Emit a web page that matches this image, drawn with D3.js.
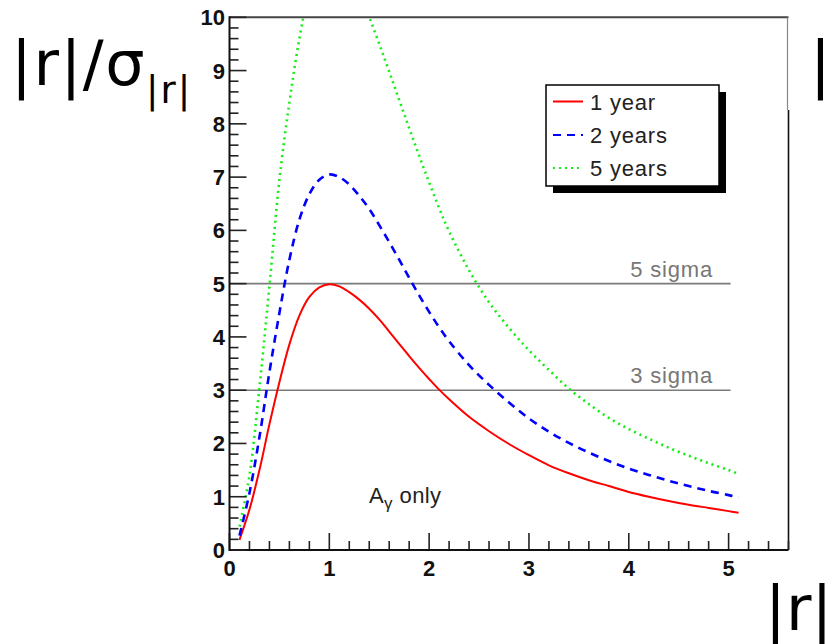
<!DOCTYPE html>
<html>
<head>
<meta charset="utf-8">
<script src="https://cdn.jsdelivr.net/npm/d3@7"></script>
<style>
  html, body { margin: 0; padding: 0; background: #fff; overflow: hidden; }
  svg { display: block; }
</style>
</head>
<body>
<svg id="chart" width="826" height="644"></svg>
<script>
// ---- data ----
const rValues = [0.1, 0.2, 0.3, 0.4, 0.5, 0.6, 0.7, 0.8, 0.9, 1.0, 1.1, 1.2, 1.3, 1.4, 1.5, 1.6, 1.7, 1.8, 1.9, 2.0, 2.1, 2.2, 2.4, 2.6, 2.8, 3.0, 3.2, 3.4, 3.6, 3.8, 4.0, 4.2, 4.4, 4.6, 4.8, 5.0, 5.1];
const oneYear   = [0.19, 0.76, 1.50, 2.36, 3.15, 3.86, 4.40, 4.75, 4.93, 4.99, 4.95, 4.84, 4.70, 4.53, 4.33, 4.10, 3.87, 3.64, 3.42, 3.21, 3.01, 2.83, 2.50, 2.23, 1.99, 1.78, 1.59, 1.44, 1.31, 1.20, 1.09, 1.00, 0.92, 0.85, 0.79, 0.73, 0.70];
const twoYears  = [0.27, 1.07, 2.12, 3.34, 4.45, 5.45, 6.20, 6.68, 6.95, 7.05, 7.00, 6.86, 6.65, 6.40, 6.10, 5.78, 5.45, 5.11, 4.78, 4.47, 4.18, 3.92, 3.47, 3.10, 2.77, 2.47, 2.22, 2.01, 1.83, 1.67, 1.53, 1.41, 1.30, 1.20, 1.11, 1.03, 0.99];
const fiveYears = [0.44, 1.40, 3.05, 4.95, 6.95, 8.40, 9.60, 10.50, 11.00, 11.15, 11.05, 10.80, 10.45, 10.00, 9.50, 8.98, 8.45, 7.92, 7.40, 6.90, 6.42, 5.98, 5.25, 4.65, 4.17, 3.75, 3.38, 3.03, 2.74, 2.48, 2.27, 2.09, 1.92, 1.77, 1.63, 1.50, 1.43];
const seriesNames = ["1 year", "2 years", "5 years"];
const seriesColors = ["#ff0000", "#0000ff", "#11ee11"];
const seriesDash = [null, "8,6", "2,4"];
const sigmaLevels = [5, 3];
const sigmaLabels = ["5 sigma", "3 sigma"];
const xTicks = [0, 1, 2, 3, 4, 5];
const yTicks = [0, 1, 2, 3, 4, 5, 6, 7, 8, 9, 10];

// ---- layout ----
const svg = d3.select("#chart");
const L = 229.5, R = 788.5, T = 17.3, B = 550;
const x = d3.scaleLinear().domain([0, 5.6]).range([L, R]);
const y = d3.scaleLinear().domain([0, 10]).range([B, T]);
const tickFont = "Liberation Sans, Arial, sans-serif";

svg.append("defs").append("clipPath").attr("id", "plotclip")
  .append("rect").attr("x", L).attr("y", T).attr("width", R - L).attr("height", B - T);

// sigma lines
sigmaLevels.forEach((s, i) => {
  svg.append("line").attr("x1", x(0)).attr("x2", x(5.02))
    .attr("y1", y(s)).attr("y2", y(s))
    .attr("stroke", "#7a7a7a").attr("stroke-width", 1.6);
  svg.append("text").attr("x", 713).attr("y", y(s) - 7)
    .attr("text-anchor", "end")
    .attr("font-family", tickFont)
    .attr("font-size", 22).attr("letter-spacing", 0.8)
    .attr("fill", "#777").text(sigmaLabels[i]);
});

// curves
const allSeries = [oneYear, twoYears, fiveYears];
const line = d3.line().x(d => x(d[0])).y(d => y(d[1])).curve(d3.curveCatmullRom.alpha(0.5));
const gCurves = svg.append("g").attr("clip-path", "url(#plotclip)");
allSeries.forEach((vals, i) => {
  const pts = rValues.map((r, j) => [r, vals[j]]);
  gCurves.append("path").datum(pts).attr("d", line)
    .attr("fill", "none").attr("stroke", seriesColors[i])
    .attr("stroke-width", i === 0 ? 2 : 2.6)
    .attr("stroke-dasharray", seriesDash[i]);
});

// frame
svg.append("line").attr("x1", L).attr("x2", R).attr("y1", T).attr("y2", T)
  .attr("stroke", "#444").attr("stroke-width", 2);
svg.append("line").attr("x1", R - 1).attr("x2", R - 1).attr("y1", T).attr("y2", 110)
  .attr("stroke", "#888").attr("stroke-width", 1.2);
svg.append("line").attr("x1", R).attr("x2", R).attr("y1", 110).attr("y2", B)
  .attr("stroke", "#111").attr("stroke-width", 1.6);

// x axis: ticks inside (ROOT style)
const gx = svg.append("g");
const xMinor = d3.range(0, 28.5).map(k => +(k * 0.2).toFixed(1));
xMinor.forEach(v => {
  const major = Math.abs(v - Math.round(v)) < 1e-6;
  gx.append("line").attr("x1", x(v)).attr("x2", x(v))
    .attr("y1", B).attr("y2", B - (major ? 17 : 9))
    .attr("stroke", "#222").attr("stroke-width", 1.6);
});
xTicks.forEach(v => {
  gx.append("text").attr("x", x(v)).attr("y", B + 26)
    .attr("text-anchor", "middle").attr("font-family", tickFont)
    .attr("font-weight", "bold").attr("font-size", 22).attr("fill", "#111").text(v);
});
svg.append("line").attr("x1", L).attr("x2", R).attr("y1", B).attr("y2", B)
  .attr("stroke", "#111").attr("stroke-width", 2);

// y axis
const gy = svg.append("g");
const yMinor = d3.range(0, 51).map(k => +(k * 0.2).toFixed(1));
yMinor.forEach(v => {
  const major = Math.abs(v - Math.round(v)) < 1e-6;
  gy.append("line").attr("x1", L).attr("x2", L + (major ? 17 : 9))
    .attr("y1", y(v)).attr("y2", y(v))
    .attr("stroke", "#222").attr("stroke-width", 1.6);
});
yTicks.forEach(v => {
  gy.append("text").attr("x", 225).attr("y", y(v) + 8)
    .attr("text-anchor", "end").attr("font-family", tickFont)
    .attr("font-weight", "bold").attr("font-size", 22).attr("fill", "#111").text(v);
});
svg.append("line").attr("x1", L).attr("x2", L).attr("y1", T - 1).attr("y2", B + 1)
  .attr("stroke", "#111").attr("stroke-width", 2);

// legend
const lg = svg.append("g");
lg.append("rect").attr("x", 553).attr("y", 92).attr("width", 173).attr("height", 101).attr("fill", "#000");
lg.append("rect").attr("x", 546).attr("y", 85).attr("width", 173).attr("height", 101)
  .attr("fill", "#fff").attr("stroke", "#000").attr("stroke-width", 1.5);
const rowY = [101.5, 135, 168];
seriesNames.forEach((n, i) => {
  lg.append("line").attr("x1", 553).attr("x2", 583).attr("y1", rowY[i]).attr("y2", rowY[i])
    .attr("stroke", seriesColors[i]).attr("stroke-width", 2)
    .attr("stroke-dasharray", seriesDash[i]);
  lg.append("text").attr("x", 590).attr("y", rowY[i] + 8)
    .attr("font-family", tickFont).attr("font-size", 22).attr("letter-spacing", 0.8)
    .attr("fill", "#222").text(n);
});

// annotation
const ann = svg.append("text").attr("x", 369).attr("y", 503)
  .attr("font-family", tickFont).attr("font-size", 22).attr("letter-spacing", 0.4).attr("fill", "#222");
ann.append("tspan").text("A");
ann.append("tspan").attr("dy", 6).attr("font-size", 17).text("γ");
ann.append("tspan").attr("dy", -6).text(" only");

// big slide labels
const bigFont = "DejaVu Sans, sans-serif";
const yl = svg.append("text").attr("x", 11).attr("y", 85)
  .attr("font-family", bigFont).attr("font-size", 62).attr("fill", "#000");
yl.append("tspan").attr("letter-spacing", 1.5).text("|r|/σ");
yl.append("tspan").attr("dy", 18).attr("font-size", 37).attr("letter-spacing", 2).text("|r|");

svg.append("text").attr("x", 810).attr("y", 85)
  .attr("font-family", bigFont).attr("font-size", 62).attr("fill", "#000").text("|r|/σ");

svg.append("text").attr("x", 765).attr("y", 630)
  .attr("font-family", bigFont).attr("font-size", 62).attr("fill", "#000").text("|r|");
</script>
</body>
</html>
